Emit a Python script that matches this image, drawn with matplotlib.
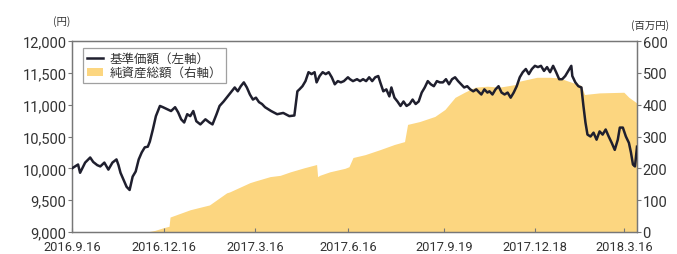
import matplotlib
matplotlib.use("Agg")
import matplotlib.pyplot as plt
import numpy as np
import pandas as pd
from matplotlib.patches import Patch
from matplotlib.lines import Line2D

plt.rcParams['font.family'] = ['Noto Sans CJK JP', 'DejaVu Sans']

start = pd.Timestamp('2016-09-16')

# NAV (基準価額), day offsets from 2016-09-16 and values (円)
nav_day = [0, 6, 8, 13, 18, 21, 25, 28, 32, 36, 40, 44, 46, 48, 51, 54, 57, 60, 63, 66,
           69, 72, 75, 77, 80, 83, 87, 90, 94, 98, 102, 105, 108, 111, 114, 117, 120, 123, 127, 132,
           136, 139, 143, 146, 150, 154, 158, 161, 164, 167, 170, 173, 176, 179, 182, 185, 188, 191, 194, 197,
           203, 209, 215, 220, 223, 225, 228, 231, 234, 237, 240, 242, 245, 248, 251, 254, 257, 260, 263, 266,
           269, 273, 275, 278, 282, 285, 288, 291, 294, 297, 300, 303, 305, 308, 311, 314, 316, 319, 322, 325,
           328, 331, 334, 337, 340, 343, 346, 349, 352, 355, 358, 361, 364, 367, 370, 373, 376, 379, 382, 385,
           388, 391, 394, 397, 400, 403, 405, 408, 411, 413, 416, 419, 422, 425, 428, 431, 434, 437, 440, 443,
           446, 449, 452, 455, 458, 461, 464, 467, 470, 473, 476, 479, 482, 485, 488, 491, 494, 495, 498, 501,
           504, 506, 508, 510, 513, 516, 519, 522, 525, 528, 531, 534, 537, 540, 542, 545, 548, 551, 553, 555,
           557, 559]
nav_val = [10000, 10060, 9930, 10090, 10170, 10100, 10050, 10030, 10090, 9980, 10090, 10140, 10050, 9930, 9820, 9710, 9660, 9870, 9950, 10140,
           10250, 10330, 10340, 10420, 10610, 10820, 10980, 10960, 10930, 10900, 10960, 10880, 10770, 10720, 10850, 10820, 10900, 10740, 10690, 10770,
           10720, 10690, 10850, 10980, 11050, 11130, 11210, 11270, 11210, 11290, 11350, 11270, 11160, 11080, 11110, 11040, 11010, 10960, 10930, 10900,
           10850, 10870, 10820, 10830, 11210, 11240, 11290, 11370, 11510, 11480, 11510, 11350, 11450, 11510, 11480, 11510, 11430, 11320, 11370, 11350,
           11370, 11430, 11400, 11370, 11400, 11370, 11400, 11370, 11430, 11370, 11430, 11450, 11350, 11210, 11240, 11130, 11270, 11110, 11050, 10980,
           11050, 10980, 11010, 11080, 11010, 11050, 11190, 11270, 11370, 11320, 11290, 11370, 11350, 11350, 11400, 11320, 11400, 11430, 11370, 11320,
           11270, 11290, 11240, 11210, 11240, 11190, 11160, 11240, 11190, 11210, 11160, 11240, 11290, 11190, 11160, 11190, 11110, 11190, 11290, 11430,
           11510, 11560, 11480, 11560, 11610, 11590, 11610, 11530, 11590, 11510, 11610, 11510, 11400, 11400, 11450, 11530, 11610, 11450, 11350, 11290,
           11270, 10980, 10720, 10530, 10500, 10560, 10450, 10580, 10530, 10610, 10500, 10400, 10290, 10450, 10640, 10640, 10500, 10400, 10250, 10060,
           10030, 10340]

# Net assets (純資産総額), day offsets and values (百万円)
asset_day = [74, 82, 90, 96, 97, 117, 136, 153, 156, 176, 181, 196, 206, 216, 230, 242, 243, 245, 255, 270,
             274, 278, 290, 305, 319, 329, 332, 344, 359, 369, 379, 389, 399, 411, 423, 440, 443, 460, 473, 482,
             491, 504, 507, 522, 546, 551, 559]
asset_val = [0, 5, 13, 18, 47, 70, 85, 123, 126, 155, 160, 174, 178, 189, 202, 212, 174, 178, 189, 200,
             205, 234, 243, 259, 275, 284, 338, 347, 363, 385, 423, 440, 455, 458, 455, 464, 474, 486, 486, 484,
             474, 460, 432, 437, 439, 423, 405]

x_ticks = ['2016-09-16', '2016-12-16', '2017-03-16', '2017-06-16', '2017-09-19', '2017-12-18', '2018-03-16']
x_tick_labels = ['2016.9.16', '2016.12.16', '2017.3.16', '2017.6.16', '2017.9.19', '2017.12.18', '2018.3.16']
left_ticks = [9000, 9500, 10000, 10500, 11000, 11500, 12000]
right_ticks = [0, 100, 200, 300, 400, 500, 600]

nav_dates = start + pd.to_timedelta(nav_day, unit='D')
asset_dates = start + pd.to_timedelta(asset_day, unit='D')

fig = plt.figure(figsize=(6.77, 2.55), dpi=100)
ax = fig.add_axes([72/677, 22/255, (637-72)/677, (233-42)/255])
ax2 = ax.twinx()

area_color = '#FCD680'
line_color = '#1F1F2E'
ax2.fill_between(asset_dates, 0, asset_val, color=area_color, linewidth=0, zorder=1)
ax2.set_ylim(0, 600)
ax2.set_yticks(right_ticks)

ax.set_zorder(ax2.get_zorder() + 1)
ax.patch.set_visible(False)
ax.plot(nav_dates, nav_val, color=line_color, linewidth=1.8, zorder=3, solid_joinstyle='round')
ax.set_ylim(9000, 12000)
ax.set_yticks(left_ticks)
ax.set_yticklabels([f'{v:,}' for v in left_ticks])
ax.set_xlim(start, start + pd.Timedelta(days=559))
ax.set_xticks(pd.to_datetime(x_ticks))
ax.set_xticklabels(x_tick_labels)

spine_color = '#777777'
text_color = '#333333'
for a in (ax, ax2):
    for s in a.spines.values():
        s.set_color(spine_color)
        s.set_linewidth(0.9)

ax.tick_params(axis='y', direction='out', length=3, width=0.8, color=spine_color,
               labelsize=10.5, labelcolor=text_color, pad=1)
ax.tick_params(axis='x', direction='in', length=3, width=0.8, color=spine_color,
               labelsize=9.3, labelcolor=text_color, pad=6)
ax2.tick_params(axis='y', direction='out', length=3, width=0.8, color=spine_color,
                labelsize=10.5, labelcolor=text_color, pad=1)
for lbl in ax.get_xticklabels() + ax.get_yticklabels() + ax2.get_yticklabels():
    lbl.set_fontfamily('Roboto')

fig.text(62/677, 1 - 22/255, '(円)', fontsize=7.5, color=text_color, ha='center', va='center')
fig.text(650/677, 1 - 26/255, '(百万円)', fontsize=7.5, color=text_color, ha='center', va='center')

handles = [Line2D([0], [0], color=line_color, linewidth=1.8),
           Patch(facecolor=area_color, edgecolor='none')]
leg = ax.legend(handles, ['基準価額（左軸）', '純資産総額（右軸）'], loc='upper left',
                bbox_to_anchor=(83/677, 1 - 49/255), bbox_transform=fig.transFigure,
                fontsize=9.0, frameon=True, fancybox=False, borderpad=0.3,
                labelspacing=0.1, handlelength=1.3, handleheight=0.6, handletextpad=0.5,
                borderaxespad=0)
leg.get_frame().set_edgecolor('#888888')
leg.get_frame().set_linewidth(0.9)
for t in leg.get_texts():
    t.set_color(text_color)

fig.savefig('out.png', dpi=100)
